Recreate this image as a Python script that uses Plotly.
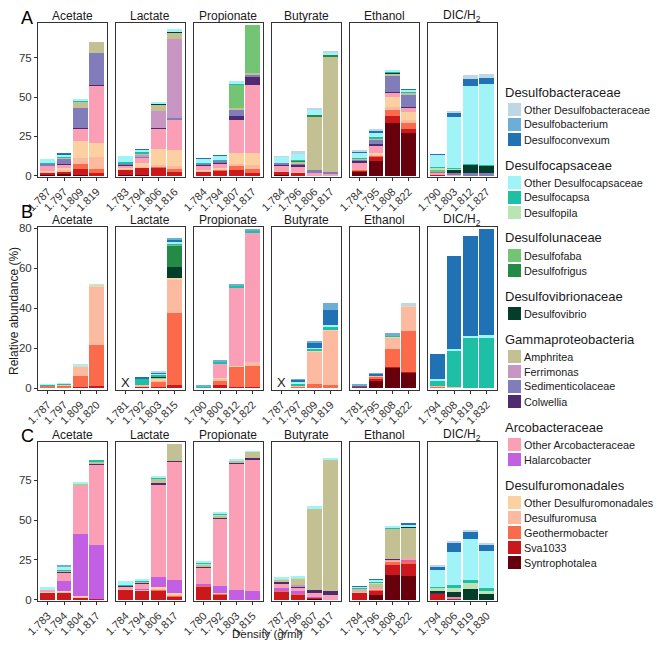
import plotly.graph_objects as go

OFF = 8  # page body margin: the figure is drawn 8px in from the window corner
W, H = 665 - 2 * OFF, 650 - 2 * OFF

# legend order (top of legend = top of stack)
taxa = ["Other Desulfobacteraceae", "Desulfobacterium", "Desulfoconvexum",
        "Other Desulfocapsaceae", "Desulfocapsa", "Desulfopila",
        "Desulfofaba", "Desulfofrigus",
        "Desulfovibrio",
        "Amphritea", "Ferrimonas", "Sedimenticolaceae", "Colwellia",
        "Other Arcobacteraceae", "Halarcobacter",
        "Other Desulfuromonadales", "Desulfuromusa", "Geothermobacter", "Sva1033", "Syntrophotalea"]
colors = ["#BDD7E7", "#6BAED6", "#2171B5",
          "#A0F3F6", "#1DBFA5", "#BAE4B3",
          "#74C476", "#238B45",
          "#053D2B",
          "#C3C093", "#C796C2", "#807DBA", "#4E2A6E",
          "#FA9FB5", "#C35FE3",
          "#FDD0A2", "#FCBBA1", "#FB6A4A", "#CB181D", "#67000D"]
groups = [("Desulfobacteraceae", 3), ("Desulfocapsaceae", 3), ("Desulfolunaceae", 2),
          ("Desulfovibrionaceae", 1), ("Gammaproteobacteria", 4), ("Arcobacteraceae", 2),
          ("Desulfuromonadales", 5)]

substrates = ["Acetate", "Lactate", "Propionate", "Butyrate", "Ethanol", "DIC/H<sub>2</sub>"]

dens_A = [["1.787", "1.797", "1.809", "1.819"], ["1.783", "1.794", "1.806", "1.816"],
          ["1.784", "1.794", "1.807", "1.817"], ["1.784", "1.796", "1.806", "1.817"],
          ["1.784", "1.795", "1.808", "1.822"], ["1.790", "1.803", "1.812", "1.827"]]
dens_B = [["1.787", "1.797", "1.809", "1.820"], ["1.781", "1.792", "1.803", "1.815"],
          ["1.790", "1.800", "1.812", "1.822"], ["1.787", "1.797", "1.809", "1.819"],
          ["1.781", "1.795", "1.808", "1.822"], ["1.794", "1.808", "1.819", "1.832"]]
dens_C = [["1.783", "1.794", "1.804", "1.817"], ["1.784", "1.794", "1.806", "1.817"],
          ["1.780", "1.792", "1.803", "1.815"], ["1.787", "1.796", "1.807", "1.817"],
          ["1.784", "1.796", "1.808", "1.822"], ["1.794", "1.806", "1.819", "1.830"]]

# ---- row A ----
A_acetate = {
    "Syntrophotalea": [0.5, 1.0, 0.5, 0], "Sva1033": [1.5, 2.0, 4.0, 2.0],
    "Geothermobacter": [0.3, 0, 3.0, 2.6], "Desulfuromusa": [0.5, 1.0, 4.0, 7.0],
    "Other Desulfuromonadales": [0.5, 1.0, 10.5, 9.0], "Other Arcobacteraceae": [3.0, 2.0, 8.0, 36.7],
    "Colwellia": [0.5, 0.5, 0.5, 0.4], "Sedimenticolaceae": [0.7, 3.5, 12.5, 20.5],
    "Amphritea": [0, 0.5, 4.0, 6.6], "Desulfovibrio": [0.3, 0.3, 0.4, 0],
    "Desulfocapsa": [0.3, 0.4, 0.3, 0], "Other Desulfocapsaceae": [2.5, 1.5, 1.0, 0],
    "Desulfoconvexum": [0, 0.3, 0, 0]}
A_lactate = {
    "Syntrophotalea": [0.5, 0.5, 0, 0], "Sva1033": [3.5, 4.5, 5.0, 3.0],
    "Geothermobacter": [0, 0, 0.5, 1.0], "Desulfuromusa": [0.6, 0.5, 1.4, 2.0],
    "Other Desulfuromonadales": [0.5, 2.4, 10.0, 10.6], "Other Arcobacteraceae": [1.5, 3.5, 13.0, 19.0],
    "Colwellia": [0.4, 0.4, 0.4, 0], "Sedimenticolaceae": [0.6, 0.5, 0, 1.0],
    "Ferrimonas": [0, 1.0, 11.0, 50.5], "Amphritea": [0, 0.6, 4.0, 4.0],
    "Desulfovibrio": [0.4, 0.4, 0.5, 0.5], "Desulfocapsa": [0.5, 0.6, 0.4, 0.4],
    "Other Desulfocapsaceae": [4.2, 1.5, 0.6, 1.0], "Desulfoconvexum": [0, 0.5, 0, 0]}
A_propionate = {
    "Sva1033": [2.6, 3.2, 3.6, 2.0], "Geothermobacter": [0.3, 0.5, 2.6, 2.6],
    "Desulfuromusa": [0.3, 0.5, 1.4, 2.0], "Other Desulfuromonadales": [0.5, 0.5, 7.0, 8.0],
    "Other Arcobacteraceae": [2.6, 3.0, 20.7, 43.0], "Colwellia": [1.0, 1.0, 2.8, 5.0],
    "Sedimenticolaceae": [0.5, 1.0, 4.0, 1.4], "Amphritea": [0, 0, 1.2, 1.6],
    "Desulfofaba": [0, 0, 14.5, 30.0], "Desulfopila": [0, 0, 0.3, 0],
    "Desulfocapsa": [0.4, 0.4, 0.3, 0], "Other Desulfocapsaceae": [2.6, 2.6, 1.6, 0],
    "Desulfoconvexum": [0.3, 0.3, 0, 0]}
A_butyrate = {
    "Syntrophotalea": [0.5, 0, 0, 0], "Sva1033": [2.0, 2.0, 0, 0],
    "Desulfuromusa": [0.5, 0.5, 0, 0], "Other Arcobacteraceae": [3.0, 3.4, 2.0, 1.6],
    "Colwellia": [1.4, 1.0, 0, 0], "Sedimenticolaceae": [1.0, 1.0, 1.6, 0.8],
    "Amphritea": [0, 1.0, 34.0, 73.5], "Desulfofrigus": [0, 0.6, 0.8, 0.8],
    "Desulfocapsa": [0, 0.4, 0, 0], "Other Desulfocapsaceae": [3.6, 4.4, 3.6, 1.8],
    "Other Desulfobacteraceae": [0.4, 1.2, 0.6, 0.4]}
A_ethanol = {
    "Syntrophotalea": [2.6, 9.6, 33.7, 27.0], "Sva1033": [1.0, 2.4, 4.0, 3.0],
    "Geothermobacter": [0.5, 0.6, 4.4, 3.6], "Desulfuromusa": [0.5, 0.6, 1.6, 1.6],
    "Other Desulfuromonadales": [0, 1.0, 6.4, 5.4], "Other Arcobacteraceae": [3.6, 5.2, 2.6, 3.0],
    "Colwellia": [1.0, 0.6, 0.4, 0.4], "Sedimenticolaceae": [1.4, 3.0, 10.8, 7.6],
    "Amphritea": [0.5, 0.4, 1.0, 1.0], "Desulfovibrio": [0, 0.4, 1.0, 0.6],
    "Desulfocapsa": [0.4, 1.0, 0.4, 0.4], "Other Desulfocapsaceae": [3.4, 3.0, 1.2, 1.0],
    "Desulfoconvexum": [0.8, 1.0, 0, 0.4], "Other Desulfobacteraceae": [0.4, 0.5, 0, 0]}
A_dic = {
    "Sva1033": [0.5, 0, 0, 0], "Geothermobacter": [0.3, 0, 0, 0],
    "Other Arcobacteraceae": [1.0, 0.5, 0, 0], "Sedimenticolaceae": [0.4, 1.0, 2.0, 2.0],
    "Desulfovibrio": [0, 2.2, 5.2, 4.6], "Desulfofaba": [2.0, 0.5, 0, 0],
    "Desulfopila": [1.0, 0.4, 0, 0], "Desulfocapsa": [0.4, 0.5, 0.4, 0.4],
    "Other Desulfocapsaceae": [7.6, 32.5, 49.6, 51.6], "Desulfoconvexum": [0.6, 2.0, 4.2, 3.6],
    "Other Desulfobacteraceae": [0, 1.6, 2.8, 2.6]}

# ---- row B ----
B_acetate = {
    "Sva1033": [0.4, 0.4, 0.3, 0.8], "Geothermobacter": [0.6, 0.9, 5.5, 20.6],
    "Desulfuromusa": [0.3, 0.6, 4.7, 29.3], "Other Desulfuromonadales": [0, 0, 0.5, 1.0],
    "Desulfocapsa": [0.2, 0.3, 0.3, 0], "Other Desulfocapsaceae": [0.2, 0.3, 0.5, 0.3]}
B_lactate = {
    "Sva1033": [0, 0.5, 0.4, 1.3], "Geothermobacter": [0, 0.4, 2.4, 36.0],
    "Desulfuromusa": [0, 0.4, 1.0, 16.7], "Other Desulfuromonadales": [0, 0, 0.9, 0.8],
    "Amphritea": [0, 0, 0.3, 0], "Desulfovibrio": [0, 0, 0.8, 5.8],
    "Desulfofrigus": [0, 0, 0, 10.5], "Desulfofaba": [0, 0, 0, 0.4],
    "Desulfocapsa": [0, 3.6, 0.8, 0.8], "Other Desulfocapsaceae": [0, 0, 0.4, 0.6],
    "Desulfoconvexum": [0, 0.2, 0.8, 1.3], "Desulfobacterium": [0, 0, 0, 0.8],
    "Other Desulfobacteraceae": [0, 0, 0.3, 0]}
B_propionate = {
    "Sva1033": [0, 1.3, 0.5, 0.5], "Geothermobacter": [0.2, 2.2, 10.0, 10.4],
    "Desulfuromusa": [0, 1.2, 0.4, 2.2], "Other Desulfuromonadales": [0, 0.4, 0.3, 0],
    "Other Arcobacteraceae": [0, 7.2, 38.7, 64.8], "Desulfocapsa": [0.7, 0.8, 1.2, 0.4],
    "Desulfobacterium": [0.4, 0.8, 0.8, 1.3]}
B_butyrate = {
    "Geothermobacter": [0, 0.3, 1.8, 1.3], "Desulfuromusa": [0, 1.0, 16.2, 27.6],
    "Other Desulfuromonadales": [0, 0, 0.3, 0.3], "Desulfocapsa": [0, 0.8, 1.3, 1.3],
    "Other Desulfocapsaceae": [0, 0.8, 0.5, 1.2], "Desulfoconvexum": [0, 1.2, 2.8, 7.4],
    "Desulfobacterium": [0, 0.3, 0.8, 3.3]}
B_ethanol = {
    "Syntrophotalea": [0.3, 3.9, 10.0, 7.5], "Sva1033": [0.3, 0.5, 0.5, 0.5],
    "Geothermobacter": [0.3, 1.2, 8.9, 20.4], "Desulfuromusa": [0, 0.4, 5.9, 12.2],
    "Other Desulfuromonadales": [0, 0, 0.5, 0.4], "Desulfocapsa": [0, 0, 0.3, 0],
    "Other Desulfocapsaceae": [0, 0.4, 0, 0], "Desulfoconvexum": [0.3, 0.8, 0, 0],
    "Desulfobacterium": [0.5, 0.3, 1.2, 0], "Other Desulfobacteraceae": [0, 0, 0, 1.3]}
B_dic = {
    "Sva1033": [0.3, 0.3, 0, 0], "Geothermobacter": [0.3, 0, 0, 0],
    "Desulfuromusa": [0.2, 0.3, 0, 0], "Desulfocapsa": [3.0, 17.9, 24.8, 25.1],
    "Other Desulfocapsaceae": [0.8, 1.0, 1.2, 1.3], "Desulfoconvexum": [12.2, 46.4, 49.9, 53.2]}

# ---- row C ----
C_acetate = {
    "Sva1033": [4.3, 4.3, 1.6, 0.3], "Desulfuromusa": [0.4, 0.6, 0.6, 0],
    "Other Desulfuromonadales": [0.3, 0.4, 0.3, 0], "Halarcobacter": [0.3, 6.6, 38.5, 34.0],
    "Other Arcobacteraceae": [1.0, 5.4, 30.5, 50.5], "Colwellia": [0, 0.3, 0.3, 0.4],
    "Amphritea": [0, 0.8, 1.0, 1.9], "Desulfocapsa": [0.3, 0.4, 0.4, 0.3],
    "Other Desulfocapsaceae": [1.2, 2.0, 1.0, 0], "Desulfobacterium": [0, 0.4, 0, 0]}
C_lactate = {
    "Sva1033": [6.4, 5.8, 5.8, 2.3], "Geothermobacter": [0, 0, 0.6, 0.5],
    "Desulfuromusa": [0.5, 0.5, 0.5, 0.4], "Other Desulfuromonadales": [0.4, 0.3, 1.0, 1.0],
    "Halarcobacter": [0, 0.3, 6.2, 8.2], "Other Arcobacteraceae": [1.2, 3.5, 58.3, 74.2],
    "Colwellia": [0.3, 0.3, 0.8, 0.6], "Amphritea": [0.4, 0.6, 2.9, 10.7],
    "Desulfocapsa": [0.3, 0.3, 0.4, 0], "Other Desulfocapsaceae": [2.2, 1.6, 1.2, 0]}
C_propionate = {
    "Sva1033": [8.4, 3.3, 0, 0], "Geothermobacter": [0.4, 0.4, 0, 0],
    "Desulfuromusa": [0, 0.3, 0, 0], "Halarcobacter": [1.0, 4.7, 6.4, 5.4],
    "Other Arcobacteraceae": [10.7, 42.2, 79.0, 82.4], "Colwellia": [0.4, 1.0, 0.8, 1.0],
    "Amphritea": [1.2, 1.0, 1.0, 4.1], "Desulfopila": [0.5, 0.5, 0, 0],
    "Desulfocapsa": [0.5, 0.5, 0.4, 0], "Other Desulfocapsaceae": [1.4, 1.2, 0.5, 0.5]}
C_butyrate = {
    "Syntrophotalea": [0, 0, 0.5, 0], "Sva1033": [5.4, 3.3, 0.6, 0],
    "Geothermobacter": [0.3, 0.4, 0, 0], "Desulfuromusa": [0.3, 0.4, 0.4, 0],
    "Halarcobacter": [1.2, 1.2, 0.5, 0], "Other Arcobacteraceae": [3.1, 2.4, 2.0, 2.9],
    "Colwellia": [0.6, 0.4, 2.0, 2.9], "Ferrimonas": [0, 1.0, 0, 0],
    "Amphritea": [2.1, 4.1, 51.0, 82.6], "Desulfopila": [0.4, 0.5, 0, 0],
    "Other Desulfocapsaceae": [0.7, 1.4, 1.8, 0.8]}
C_ethanol = {
    "Syntrophotalea": [0, 2.7, 15.7, 15.0], "Sva1033": [4.3, 3.1, 6.2, 7.4],
    "Geothermobacter": [0.4, 0.6, 2.0, 2.0], "Desulfuromusa": [0.4, 0.4, 0.5, 0.5],
    "Halarcobacter": [0, 0, 0.4, 0.6], "Other Arcobacteraceae": [0.4, 0.6, 0.6, 0.5],
    "Colwellia": [0, 0, 0.3, 0], "Amphritea": [1.6, 2.9, 19.0, 19.6],
    "Desulfovibrio": [0, 0, 0, 0.3], "Desulfopila": [0, 0.4, 0, 0],
    "Desulfocapsa": [0.3, 0.4, 0.4, 0.3], "Other Desulfocapsaceae": [0.6, 1.4, 1.4, 0.8],
    "Desulfoconvexum": [0.4, 0.5, 0, 1.0]}
C_dic = {
    "Sva1033": [3.7, 0.5, 0, 0], "Geothermobacter": [0.4, 0, 0, 0],
    "Colwellia": [0.4, 0, 0, 0], "Ferrimonas": [0, 1.2, 0, 0],
    "Desulfovibrio": [1.0, 3.1, 7.0, 3.7], "Desulfopila": [2.0, 3.1, 3.5, 2.0],
    "Desulfocapsa": [0.4, 1.2, 2.1, 1.6], "Other Desulfocapsaceae": [10.9, 21.0, 25.8, 23.1],
    "Desulfoconvexum": [2.0, 5.6, 4.7, 4.1], "Other Desulfobacteraceae": [0.4, 1.2, 0.8, 0.6]}

rows = [
    ("A", dens_A, [A_acetate, A_lactate, A_propionate, A_butyrate, A_ethanol, A_dic]),
    ("B", dens_B, [B_acetate, B_lactate, B_propionate, B_butyrate, B_ethanol, B_dic]),
    ("C", dens_C, [C_acetate, C_lactate, C_propionate, C_butyrate, C_ethanol, C_dic]),
]
missing = [("B", 1, 0), ("B", 3, 0)]  # samples without data, marked X

# ---- geometry (window pixels) ----
row_px = [(23, 177), (227, 390), (442, 601)]
letter_y = [18, 212, 436]
y_ranges = [[-0.8, 97.1], [-1.0, 80.5], [-0.8, 99.1]]
y_ticks = [[0, 25, 50, 75], [0, 20, 40, 60, 80], [0, 25, 50, 75]]
col_left, col_w, col_gap = 38, 68.5, 9.5

FONT = "Liberation Sans, Arial, sans-serif"
TXT = "#1a1a1a"


def px_x(p):
    return (p - OFF) / W


def px_y(p):
    return 1 - (p - OFF) / H


fig = go.Figure()
layout = {}
annotations = []
shapes = []
color_of = dict(zip(taxa, colors))

for r, (letter, dens, panels) in enumerate(rows):
    top, bot = row_px[r]
    for c, data in enumerate(panels):
        n = r * 6 + c + 1
        suffix = "" if n == 1 else str(n)
        x0 = col_left + c * (col_w + col_gap)
        for t in reversed(taxa):
            if t not in data:
                continue
            fig.add_trace(go.Bar(
                x=dens[c], y=data[t], name=t, marker_color=color_of[t],
                marker_line_width=0, showlegend=False,
                xaxis="x" + suffix, yaxis="y" + suffix,
                hovertemplate=t + ": %{y}<extra></extra>"))
        layout["xaxis" + suffix] = dict(
            domain=[px_x(x0), px_x(x0 + col_w)], anchor="y" + suffix, automargin=False,
            type="category", categoryorder="array", categoryarray=dens[c],
            range=[-0.6, 3.6], showline=True, mirror=True, linecolor="#333333", linewidth=1,
            ticks="outside", ticklen=3, tickcolor="#333333", tickangle=-45,
            tickfont=dict(size=11, color="#333333", family=FONT), showgrid=False, zeroline=False)
        layout["yaxis" + suffix] = dict(
            domain=[px_y(bot), px_y(top)], anchor="x" + suffix, automargin=False,
            range=y_ranges[r], tickvals=y_ticks[r],
            showline=True, mirror=True, linecolor="#333333", linewidth=1,
            ticks="outside" if c == 0 else "", ticklen=3, tickcolor="#333333",
            showticklabels=(c == 0), tickfont=dict(size=11.5, color="#333333", family=FONT),
            showgrid=False, zeroline=False)
        annotations.append(dict(
            text=substrates[c], x=px_x(x0 + col_w / 2), y=px_y(top - 7), xref="paper", yref="paper",
            xanchor="center", yanchor="middle", showarrow=False,
            font=dict(size=12, color=TXT, family=FONT)))
        for (ml, mc, mi) in missing:
            if ml == letter and mc == c:
                annotations.append(dict(
                    text="X", x=mi, y=3, xref="x" + suffix, yref="y" + suffix,
                    showarrow=False, font=dict(size=13, color=TXT, family=FONT)))
    annotations.append(dict(
        text=letter, x=px_x(19), y=px_y(letter_y[r]), xref="paper", yref="paper",
        xanchor="left", yanchor="middle", showarrow=False,
        font=dict(size=18, color="#000000", family=FONT)))

# axis titles
annotations.append(dict(
    text="Relative abundance (%)", x=px_x(14), y=px_y(311), xref="paper", yref="paper",
    textangle=-90, showarrow=False, xanchor="center", yanchor="middle",
    font=dict(size=12, color=TXT, family=FONT)))
annotations.append(dict(
    text="Density (g/ml)", x=px_x(267), y=px_y(642), xref="paper", yref="paper",
    showarrow=False, xanchor="center", yanchor="bottom",
    font=dict(size=11.5, color=TXT, family=FONT)))

# grouped legend drawn as keys + labels
y = 92
k = 0
for gname, cnt in groups:
    annotations.append(dict(
        text=gname, x=px_x(503), y=px_y(y), xref="paper", yref="paper",
        xanchor="left", yanchor="middle", showarrow=False,
        font=dict(size=13, color=TXT, family=FONT)))
    y += 17.5
    for _ in range(cnt):
        shapes.append(dict(
            type="rect", xref="paper", yref="paper", x0=px_x(508), x1=px_x(521),
            y0=px_y(y + 6.5), y1=px_y(y - 6.5), fillcolor=colors[k], line=dict(width=0)))
        annotations.append(dict(
            text=taxa[k], x=px_x(522), y=px_y(y), xref="paper", yref="paper",
            xanchor="left", yanchor="middle", showarrow=False,
            font=dict(size=10.8, color=TXT, family=FONT)))
        y += 15
        k += 1
    y += 25.5 - 15

fig.update_layout(
    width=W, height=H, margin=dict(l=0, r=0, t=0, b=0),
    barmode="stack", bargap=0.1,
    paper_bgcolor="white", plot_bgcolor="white",
    font=dict(family=FONT, color=TXT),
    showlegend=False, annotations=annotations, shapes=shapes, **layout)

fig.write_html("out.html")
